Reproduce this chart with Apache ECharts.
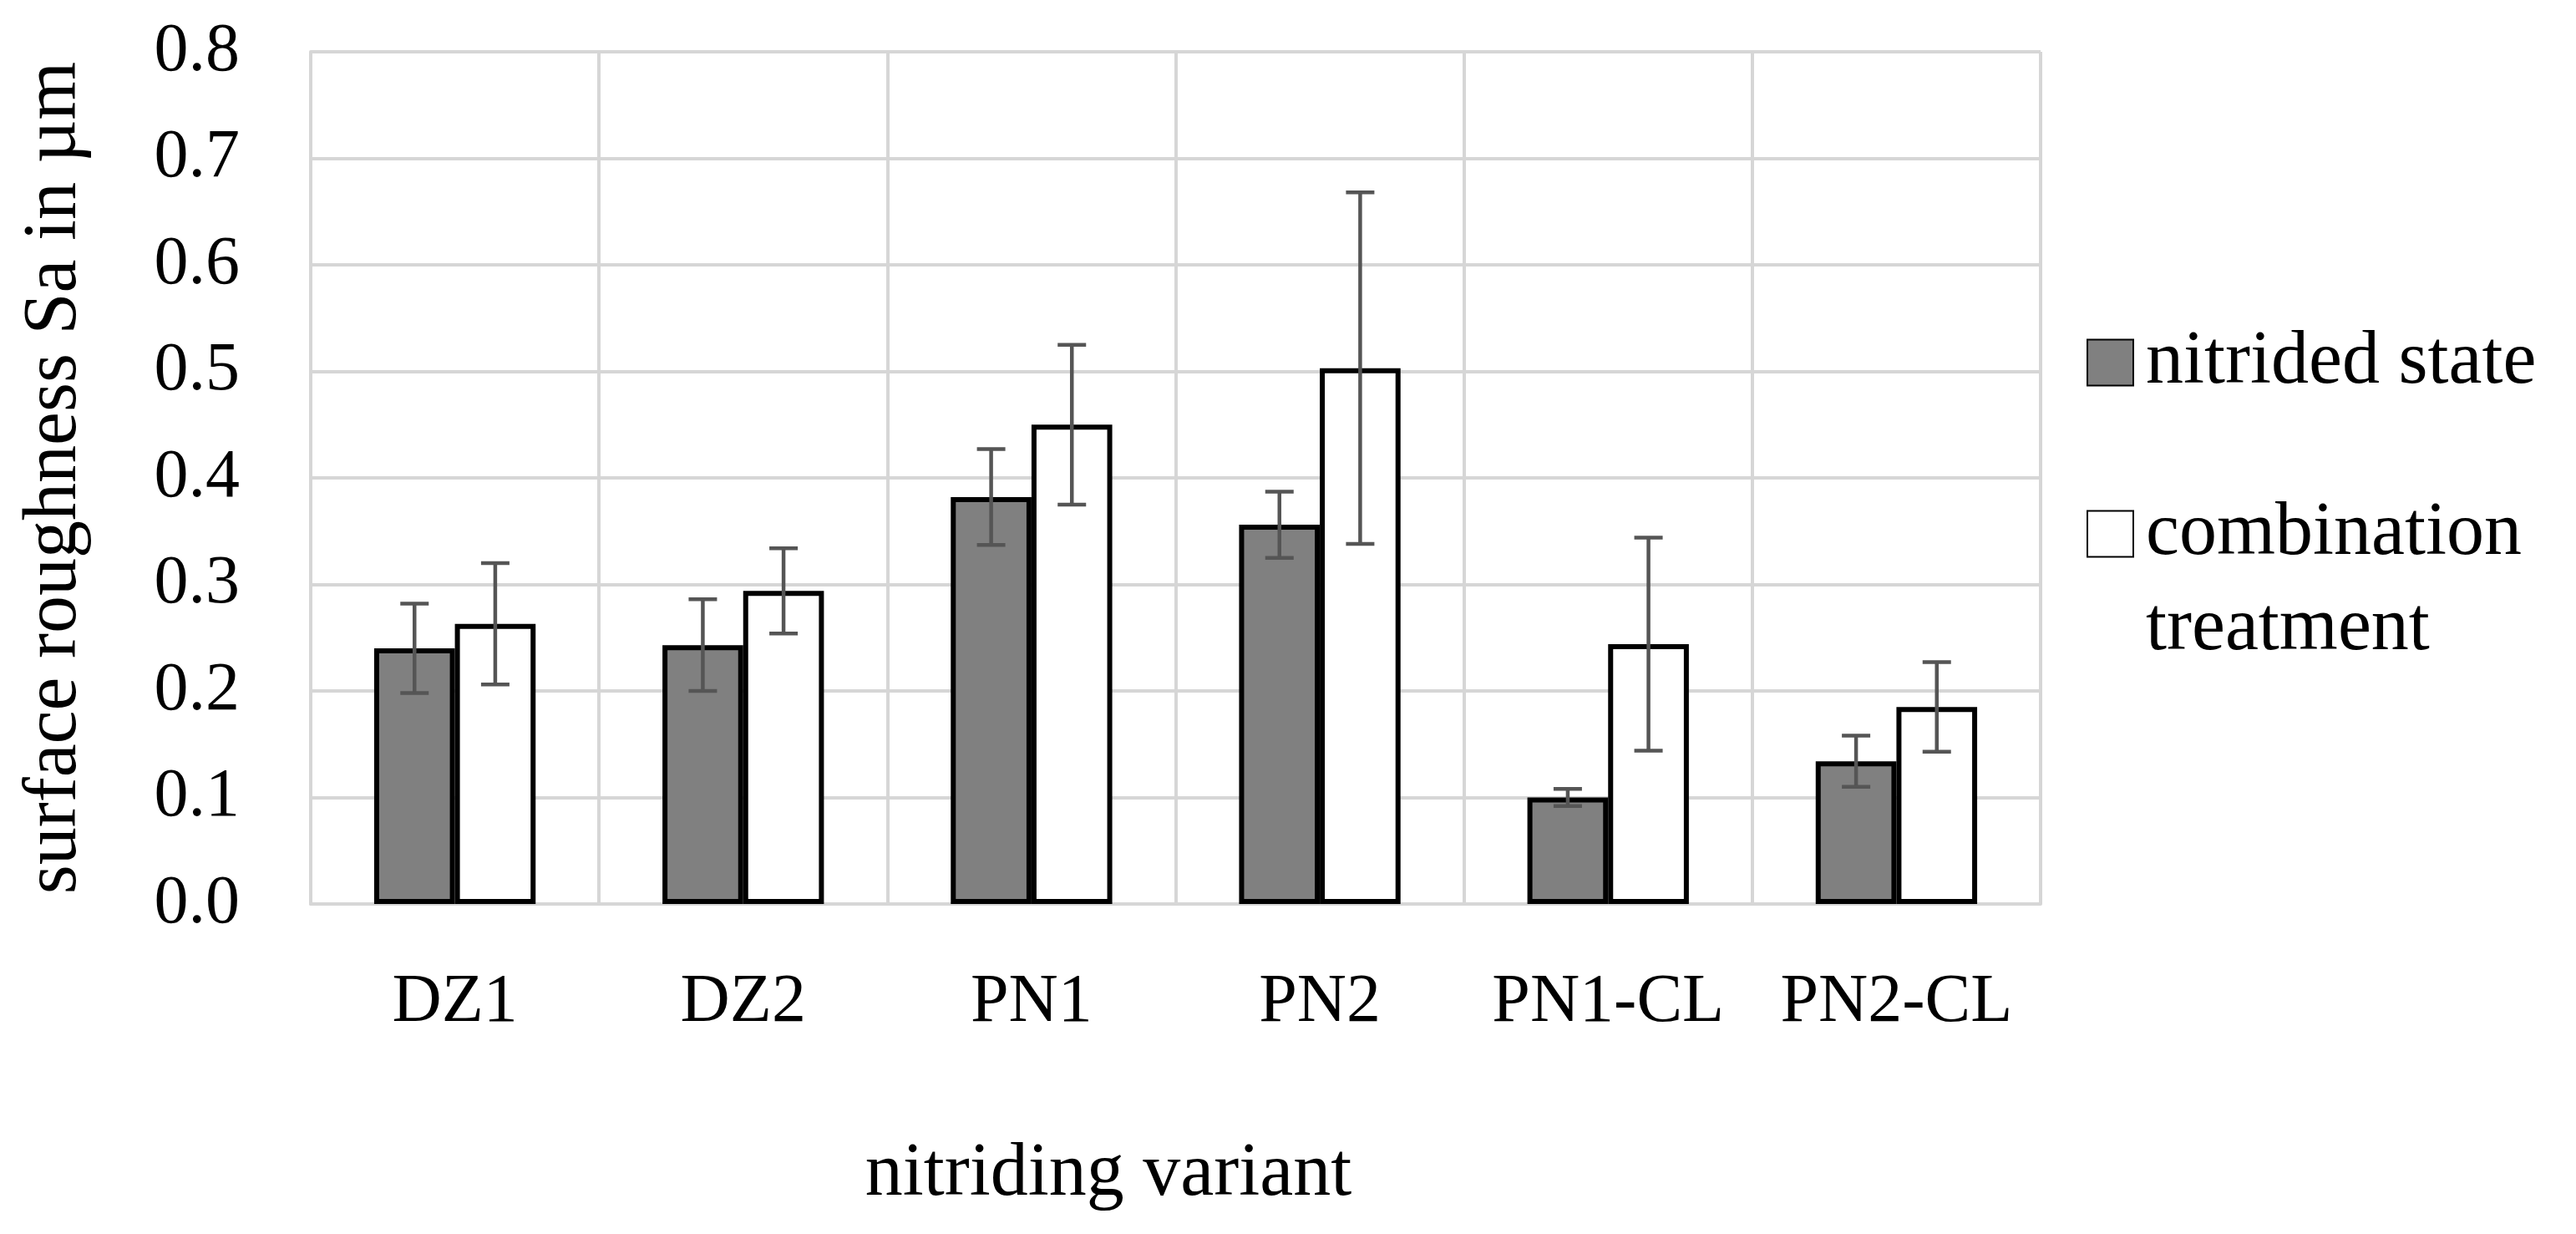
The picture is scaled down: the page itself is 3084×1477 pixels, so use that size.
<!DOCTYPE html>
<html>
<head>
<meta charset="utf-8">
<script src="https://cdn.jsdelivr.net/npm/echarts@6/dist/echarts.min.js"></script>
<style>
  html, body { margin: 0; padding: 0; background: #ffffff; }
  #chart { width: 3084px; height: 1477px; }
</style>
</head>
<body>
<div id="chart"></div>
<script>
// ---- data ----
const categories = ['DZ1', 'DZ2', 'PN1', 'PN2', 'PN1-CL', 'PN2-CL'];
const seriesNames = ['nitrided state', 'combination treatment'];
const nitridedSa  = [0.240, 0.243, 0.382, 0.356, 0.100, 0.134];
const nitridedErr = [0.042, 0.043, 0.045, 0.031, 0.008, 0.024];
const comboSa     = [0.263, 0.294, 0.450, 0.503, 0.244, 0.185];
const comboErr    = [0.057, 0.040, 0.075, 0.165, 0.100, 0.042];
const yTicks = [0, 0.1, 0.2, 0.3, 0.4, 0.5, 0.6, 0.7, 0.8];

// ---- style ----
const FONT = 'Liberation Serif';
const GRID_COLOR = '#d6d6d6';
const CAT_GAP = 0.44;

function errData(vals, errs) {
  return vals.map((v, i) => [i, v - errs[i], v + errs[i]]);
}

function makeErrRender(side) {
  return function (params, api) {
    const idx = api.value(0);
    const lo = api.coord([idx, api.value(1)]);
    const hi = api.coord([idx, api.value(2)]);
    const band = api.size([1, 0])[0];
    const barW = band * (1 - CAT_GAP) / 2;
    const x = lo[0] + side * barW / 2;
    const cap = 17;
    const style = { stroke: '#555555', lineWidth: 4.5, fill: null };
    return {
      type: 'group',
      children: [
        { type: 'line', shape: { x1: x, y1: lo[1], x2: x, y2: hi[1] }, style: style },
        { type: 'line', shape: { x1: x - cap, y1: lo[1], x2: x + cap, y2: lo[1] }, style: style },
        { type: 'line', shape: { x1: x - cap, y1: hi[1], x2: x + cap, y2: hi[1] }, style: style }
      ]
    };
  };
}

const chart = echarts.init(document.getElementById('chart'), null, { renderer: 'canvas' });

const richT = { t: { fontFamily: FONT, fontSize: 90, color: '#000', lineHeight: 114, padding: [0, 0, 0, 10] } };

chart.setOption({
  backgroundColor: '#ffffff',
  animation: false,
  textStyle: { fontFamily: FONT },
  grid: { left: 372, right: 641, top: 62, bottom: 395, containLabel: false },
  title: {
    text: 'nitriding variant',
    left: 1322,
    top: 1356,
    textAlign: 'center',
    textStyle: { fontFamily: FONT, fontSize: 90, fontWeight: 'normal', color: '#000', lineHeight: 90 }
  },
  legend: [
    {
      data: [seriesNames[0]],
      orient: 'vertical',
      left: 2493,
      top: 372,
      itemWidth: 55,
      itemHeight: 55,
      itemGap: 0,
      icon: 'rect',
      selectedMode: false,
      formatter: function (n) { return '{t|' + n + '}'; },
      textStyle: { fontFamily: FONT, fontSize: 90, color: '#000', lineHeight: 114, rich: richT }
    },
    {
      data: [seriesNames[1]],
      orient: 'vertical',
      left: 2493,
      top: 463,
      itemWidth: 55,
      itemHeight: 55,
      itemGap: 0,
      icon: 'rect',
      selectedMode: false,
      formatter: function () { return ' \n{t|combination}\n{t|treatment}'; },
      textStyle: { fontFamily: FONT, fontSize: 90, color: '#000', lineHeight: 114, rich: richT }
    }
  ],
  xAxis: {
    type: 'category',
    data: categories,
    boundaryGap: true,
    axisLine: { show: true, lineStyle: { color: GRID_COLOR, width: 4 } },
    axisTick: { show: false },
    splitLine: { show: true, lineStyle: { color: GRID_COLOR, width: 4 } },
    axisLabel: { fontFamily: FONT, fontSize: 82, color: '#000', margin: 77, interval: 0 }
  },
  yAxis: {
    type: 'value',
    min: yTicks[0],
    max: yTicks[yTicks.length - 1],
    interval: 0.1,
    name: 'surface roughness Sa in µm',
    nameLocation: 'middle',
    nameGap: 261,
    nameTextStyle: { fontFamily: FONT, fontSize: 90, color: '#000' },
    axisLine: { show: true, lineStyle: { color: GRID_COLOR, width: 4 } },
    axisTick: { show: false },
    splitLine: { show: true, lineStyle: { color: GRID_COLOR, width: 4 } },
    axisLabel: {
      fontFamily: FONT, fontSize: 82, color: '#000', margin: 85,
      formatter: function (v) { return v.toFixed(1); }
    }
  },
  series: [
    {
      name: seriesNames[0],
      type: 'bar',
      data: nitridedSa,
      barGap: '0%',
      barCategoryGap: (CAT_GAP * 100) + '%',
      itemStyle: { color: '#808080', borderColor: '#000', borderWidth: 6 },
      z: 2
    },
    {
      name: seriesNames[1],
      type: 'bar',
      data: comboSa,
      barGap: '0%',
      barCategoryGap: (CAT_GAP * 100) + '%',
      itemStyle: { color: '#ffffff', borderColor: '#000', borderWidth: 6 },
      z: 2
    },
    {
      name: 'err-nitrided',
      type: 'custom',
      renderItem: makeErrRender(-1),
      encode: { x: 0, y: [1, 2] },
      data: errData(nitridedSa, nitridedErr),
      z: 5,
      silent: true
    },
    {
      name: 'err-combo',
      type: 'custom',
      renderItem: makeErrRender(1),
      encode: { x: 0, y: [1, 2] },
      data: errData(comboSa, comboErr),
      z: 5,
      silent: true
    }
  ]
});
</script>
</body>
</html>
